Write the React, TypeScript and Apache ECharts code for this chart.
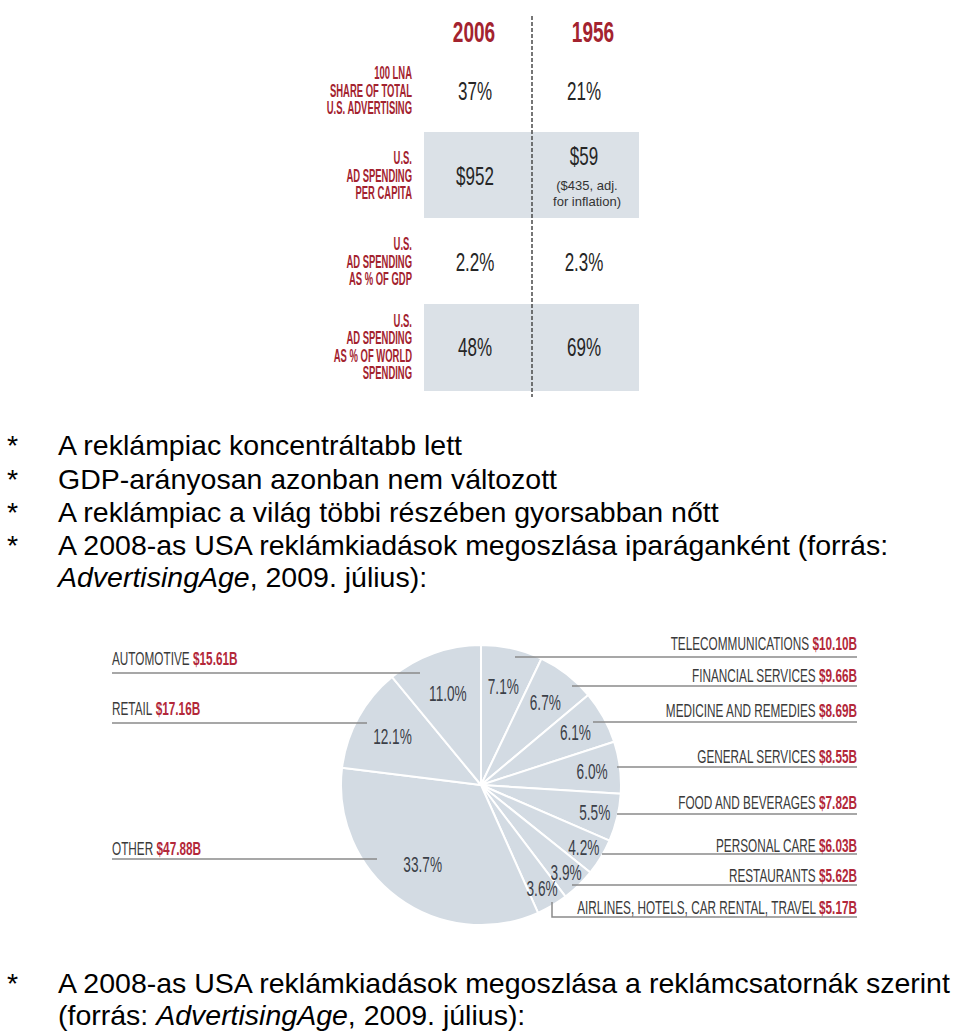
import React, { useEffect, useRef } from 'react';
import * as echarts from 'echarts';

// ---------- data ----------
const years = ['2006', '1956'];
const rowLabels: string[][] = [
  ['100 LNA', 'SHARE OF TOTAL', 'U.S. ADVERTISING'],
  ['U.S.', 'AD SPENDING', 'PER CAPITA'],
  ['U.S.', 'AD SPENDING', 'AS % OF GDP'],
  ['U.S.', 'AD SPENDING', 'AS % OF WORLD', 'SPENDING'],
];
const values2006 = ['37%', '$952', '2.2%', '48%'];
const values1956 = ['21%', '$59', '2.3%', '69%'];
const notes1956: string[][] = [[], ['($435, adj.', 'for inflation)'], [], []];

const bulletLines = [
  'A reklámpiac koncentráltabb lett',
  'GDP-arányosan azonban nem változott',
  'A reklámpiac a világ többi részében gyorsabban nőtt',
  'A 2008-as USA reklámkiadások megoszlása iparáganként (forrás:',
];
const sourceName = 'AdvertisingAge';
const sourceDate = ', 2009. július):';
const closingLine = 'A 2008-as USA reklámkiadások megoszlása a reklámcsatornák szerint';

const categories = [
  'TELECOMMUNICATIONS',
  'FINANCIAL SERVICES',
  'MEDICINE AND REMEDIES',
  'GENERAL SERVICES',
  'FOOD AND BEVERAGES',
  'PERSONAL CARE',
  'RESTAURANTS',
  'AIRLINES, HOTELS, CAR RENTAL, TRAVEL',
  'OTHER',
  'RETAIL',
  'AUTOMOTIVE',
];
const spendBillions = [10.1, 9.66, 8.69, 8.55, 7.82, 6.03, 5.62, 5.17, 47.88, 17.16, 15.61];
const sharePercent = [7.1, 6.7, 6.1, 6.0, 5.5, 4.2, 3.9, 3.6, 33.7, 12.1, 11.0];

// ---------- layout (positions / styles) ----------
const RED = '#a3232f';
const ROW_CENTERS = [90, 175, 261, 346];
const ROW_PITCH = 17.5;
const SHADED_ROWS = [
  { y: 132, h: 86 },
  { y: 304, h: 87 },
];
const COL_X = [475, 584];
const PIE_CENTER = [481, 785];
const PIE_R = 140;
const PCT_RADIUS = [101, 105, 108, 112, 117, 120, 122, 120, 98, 101, 98];
const callouts = [
  { side: 'r', ty: 643, ly: 657, lx: 515 },
  { side: 'r', ty: 675, ly: 686, lx: 572 },
  { side: 'r', ty: 710, ly: 722, lx: 593 },
  { side: 'r', ty: 756, ly: 767, lx: 617 },
  { side: 'r', ty: 802, ly: 814, lx: 617 },
  { side: 'r', ty: 845, ly: 854, lx: 602 },
  { side: 'r', ty: 875, ly: 885, lx: 572 },
  { side: 'r', ty: 907, ly: 917, lx: 552, elbow: 902 },
  { side: 'l', ty: 848, ly: 859, lx: 377 },
  { side: 'l', ty: 708, ly: 723, lx: 367 },
  { side: 'l', ty: 658, ly: 673, lx: 420 },
];
const BULLET_Y = [445, 479, 512, 545, 577];
const CLOSING_Y = [983, 1015];

function txt(
  text: string,
  x: number,
  y: number,
  size: number,
  opts: { sx?: number; sy?: number; color?: string; weight?: string; align?: string; rich?: any } = {}
) {
  const align = opts.align || 'left';
  return {
    type: 'text',
    x,
    y,
    scaleX: opts.sx ?? 1,
    scaleY: opts.sy ?? 1,
    z: 20,
    style: {
      text,
      fontSize: size,
      fontFamily: 'Liberation Sans',
      fontWeight: opts.weight || 'normal',
      fill: opts.color || '#000',
      align,
      textAlign: align,
      verticalAlign: 'middle',
      textVerticalAlign: 'middle',
      rich: opts.rich,
    },
  };
}

function buildGraphics() {
  const els: any[] = [];
  SHADED_ROWS.forEach((s) => {
    els.push({ type: 'rect', z: 1, shape: { x: 424, y: s.y, width: 215, height: s.h }, style: { fill: '#dbe1e7' } });
  });
  els.push({
    type: 'line',
    z: 5,
    shape: { x1: 532, y1: 16, x2: 532, y2: 397 },
    style: { stroke: '#4a4a4a', lineWidth: 1.5, lineDash: [4, 2] },
  });
  years.forEach((yr, i) => {
    els.push(txt(yr, i === 0 ? 474 : 593, 32, 28, { sx: 0.68, sy: 1.05, color: RED, weight: 'bold', align: 'center' }));
  });
  rowLabels.forEach((lines, r) => {
    const c = ROW_CENTERS[r];
    lines.forEach((ln, k) => {
      const y = c + (k - (lines.length - 1) / 2) * ROW_PITCH;
      els.push(txt(ln, 412, y, 17.5, { sx: 0.54, sy: 1.08, color: RED, weight: 'bold', align: 'right' }));
    });
    els.push(txt(values2006[r], COL_X[0], c + 2, 25, { sx: 0.68, color: '#262626', align: 'center' }));
    const notes = notes1956[r];
    if (notes.length) {
      els.push(txt(values1956[r], COL_X[1], c - 18, 25, { sx: 0.68, color: '#262626', align: 'center' }));
      notes.forEach((n, k) => {
        els.push(txt(n, COL_X[1] + 3, c + 10 + k * 16, 13, { color: '#333', align: 'center' }));
      });
    } else {
      els.push(txt(values1956[r], COL_X[1], c + 2, 25, { sx: 0.68, color: '#262626', align: 'center' }));
    }
  });
  bulletLines.forEach((b, i) => {
    els.push(txt('*', 7, BULLET_Y[i], 28.5, {}));
    els.push(txt(b, 58, BULLET_Y[i], 28.5, {}));
  });
  const italic = { i: { fontStyle: 'italic', fontSize: 28.5, fontFamily: 'Liberation Sans', fill: '#000', color: '#000' } };
  els.push(txt(`{i|${sourceName}}${sourceDate}`, 58, BULLET_Y[4], 28.5, { rich: italic }));
  categories.forEach((name, i) => {
    const c = callouts[i];
    const val = `$${spendBillions[i].toFixed(2)}B`;
    const rich = {
      v: { fontWeight: 'bold', fontSize: 18, fontFamily: 'Liberation Sans', fill: '#b3283a', color: '#b3283a' },
    };
    if (c.side === 'r') {
      els.push(txt(`${name} {v|${val}}`, 857, c.ty, 18, { sx: 0.655, sy: 1.06, color: '#3a3a3a', align: 'right', rich }));
      if (c.elbow) {
        els.push({
          type: 'polyline',
          z: 15,
          shape: { points: [[c.lx, c.elbow], [c.lx, c.ly], [857, c.ly]] },
          style: { stroke: '#8a8a8a', lineWidth: 1.5, fill: 'none' },
        });
      } else {
        els.push({ type: 'line', z: 15, shape: { x1: c.lx, y1: c.ly, x2: 857, y2: c.ly }, style: { stroke: '#8a8a8a', lineWidth: 1.5 } });
      }
    } else {
      els.push(txt(`${name} {v|${val}}`, 112, c.ty, 18, { sx: 0.655, sy: 1.06, color: '#3a3a3a', align: 'left', rich }));
      els.push({ type: 'line', z: 15, shape: { x1: 112, y1: c.ly, x2: c.lx, y2: c.ly }, style: { stroke: '#8a8a8a', lineWidth: 1.5 } });
    }
  });
  els.push(txt('*', 7, CLOSING_Y[0], 28.5, {}));
  els.push(txt(closingLine, 58, CLOSING_Y[0], 28.5, {}));
  els.push(txt(`(forrás: {i|${sourceName}}${sourceDate}`, 58, CLOSING_Y[1], 28.5, { rich: italic }));
  return els;
}

function percentLabels(chart: any) {
  const els: any[] = [];
  let data: any = null;
  try {
    data = chart.getModel().getSeriesByIndex(0).getData();
  } catch (e) {
    data = null;
  }
  const total = spendBillions.reduce((a, b) => a + b, 0);
  let acc = -Math.PI / 2;
  sharePercent.forEach((p, i) => {
    let cx = PIE_CENTER[0];
    let cy = PIE_CENTER[1];
    let mid: number;
    const span = (spendBillions[i] / total) * Math.PI * 2;
    const L = data ? data.getItemLayout(i) : null;
    if (L && typeof L.startAngle === 'number') {
      cx = L.cx;
      cy = L.cy;
      mid = (L.startAngle + L.endAngle) / 2;
    } else {
      mid = acc + span / 2;
    }
    acc += span;
    const rr = PCT_RADIUS[i];
    els.push(
      txt(`${p.toFixed(1)}%`, cx + rr * Math.cos(mid), cy + rr * Math.sin(mid), 22, {
        sx: 0.62,
        sy: 1.0,
        color: '#3b4048',
        align: 'center',
      })
    );
  });
  return els;
}

export default function App() {
  const ref = useRef<HTMLDivElement>(null);
  useEffect(() => {
    if (!ref.current) return;
    const chart = echarts.init(ref.current, null, { renderer: 'svg' });
    const pieData = categories.map((n, i) => ({ name: n, value: spendBillions[i] }));
    chart.setOption({
      animation: false,
      backgroundColor: '#fff',
      series: [
        {
          type: 'pie',
          center: PIE_CENTER,
          radius: PIE_R,
          startAngle: 90,
          clockwise: true,
          silent: true,
          z: 2,
          data: pieData,
          itemStyle: { color: '#d3dbe3', borderColor: '#ffffff', borderWidth: 2 },
          label: { show: false },
          labelLine: { show: false },
        },
      ],
    });
    chart.setOption({
      graphic: { elements: [...buildGraphics(), ...percentLabels(chart)] },
    });
    return () => chart.dispose();
  }, []);
  return <div ref={ref} style={{ position: 'absolute', left: 0, top: 0, width: 960, height: 1033 }} />;
}
